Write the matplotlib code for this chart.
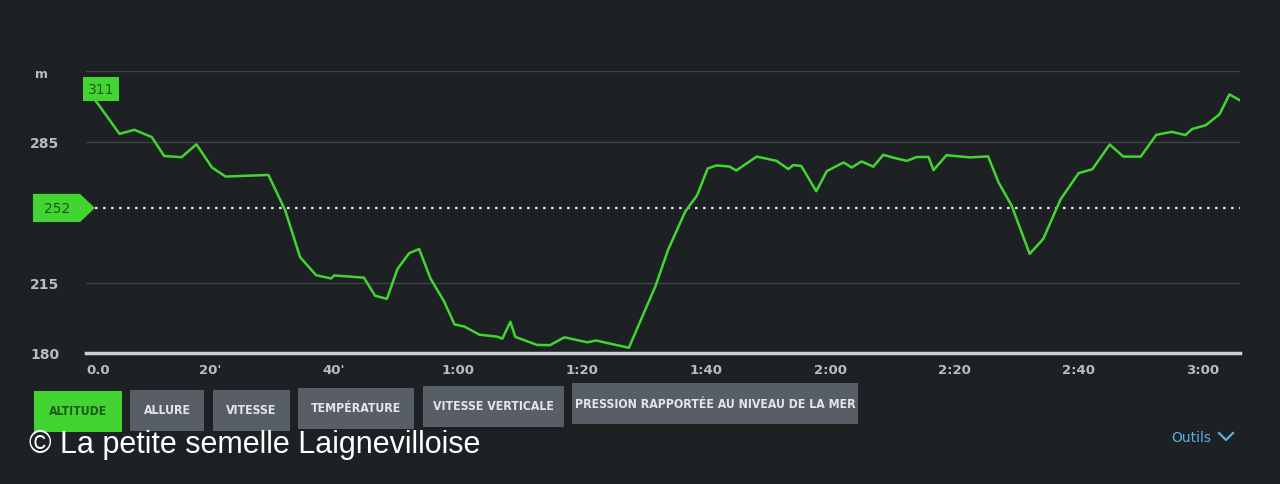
import matplotlib
matplotlib.use('Agg')
import matplotlib.pyplot as plt
from matplotlib.patches import Rectangle, Polygon
from matplotlib.lines import Line2D
from matplotlib.transforms import blended_transform_factory

# profil d'altitude (temps en minutes, altitude en m)
temps_min = [0.0, 1.9, 5.4, 7.8, 10.6, 12.6, 15.4, 17.8, 20.3, 22.5, 29.4, 32.1, 34.5,
             37.1, 39.5, 40.0, 44.8, 46.6, 48.5, 50.2, 52.1, 53.7, 55.5, 57.7, 59.4,
             61.0, 63.4, 66.3, 67.1, 68.4, 69.2, 72.7, 74.8, 77.1, 80.8, 82.2, 87.5,
             91.8, 93.8, 96.6, 98.5, 100.2, 101.6, 103.7, 104.8, 108.1, 111.3, 113.2,
             114.0, 115.3, 117.7, 119.4, 122.1, 123.4, 125.0, 126.9, 128.5, 130.2,
             132.3, 133.9, 135.8, 136.6, 138.7, 142.5, 145.4, 147.1, 149.2, 152.1,
             154.3, 157.1, 160.0, 162.2, 165.0, 167.2, 170.0, 172.5, 175.0, 177.2,
             178.3, 180.5, 182.7, 184.3, 186.0]
altitude = [311, 303.8, 288.8, 290.8, 287.2, 277.8, 277.2, 283.6, 272.1, 267.6, 268.4,
            250.9, 227.6, 218.6, 217.0, 218.5, 217.4, 208.4, 206.9, 221.7, 229.6, 231.6,
            217.1, 205.7, 194.2, 193.1, 189.1, 188.1, 187.1, 195.5, 188.0, 184.0, 183.9,
            187.8, 185.3, 186.2, 182.6, 213.3, 231.1, 250.3, 258.3, 271.6, 273.1, 272.6,
            270.6, 277.5, 275.4, 271.3, 273.3, 272.8, 260.3, 270.3, 274.6, 272.1, 275.1,
            272.5, 278.4, 276.9, 275.4, 277.3, 277.3, 270.8, 278.2, 277.1, 277.6, 264.6,
            253.1, 229.2, 236.7, 256.4, 269.3, 271.2, 283.5, 277.5, 277.5, 288.3, 289.8,
            288.2, 291.2, 293.1, 298.5, 308.4, 305.4]
alt_moyenne = 252
alt_depart = 311

graduations_y = [180, 215, 285]
lignes_grille = [215, 285, 320]
positions_x = [0, 20, 40, 60, 80, 100, 120, 140, 160, 180]
etiquettes_x = ['0.0', "20'", "40'", '1:00', '1:20', '1:40', '2:00', '2:20', '2:40', '3:00']
onglets = ['ALTITUDE', 'ALLURE', 'VITESSE', 'TEMPÉRATURE', 'VITESSE VERTICALE',
           'PRESSION RAPPORTÉE AU NIVEAU DE LA MER']

W, H = 1280, 485
fond = '#1d2123'
vert = '#42d532'
gris_txt = '#b8bdc2'

fig = plt.figure(figsize=(12.8, 4.85), dpi=100, facecolor=fond)


def fx(x):
    return x / W


def fy(y):
    return 1 - y / H


ax = fig.add_axes([fx(86), fy(354), (1240 - 86) / W, (354 - 72) / H])
ax.set_facecolor(fond)
ax.set_xlim(0, 186)
ax.set_ylim(180, 320)
for s in ax.spines.values():
    s.set_visible(False)

for g in lignes_grille:
    ax.axhline(g, color='#3f4447', lw=1.0, zorder=1)
ax.axhline(180, color='#c8d0d8', lw=2.5, zorder=3, clip_on=False)

ax.set_yticks(graduations_y)
ax.set_yticklabels([str(v) for v in graduations_y])
ax.set_xticks(positions_x)
ax.set_xticklabels(etiquettes_x)
ax.tick_params(axis='y', length=0, pad=19, labelsize=10, labelcolor=gris_txt)
ax.tick_params(axis='x', length=0, pad=7, labelsize=9.5, labelcolor=gris_txt)
for t in ax.get_yticklabels() + ax.get_xticklabels():
    t.set_fontweight('bold')
ax.get_xticklabels()[0].set_ha('left')
fig.text(fx(35), fy(75), 'm', color=gris_txt, fontsize=9, fontweight='bold', va='center')

# ligne moyenne
ax.plot([1.5, 186], [alt_moyenne, alt_moyenne], color='#e2e4e6', lw=1.6,
        ls=(0, (1.2, 2.4)), zorder=2)
# profil
ax.plot(temps_min, altitude, color=vert, lw=1.8, zorder=4, solid_joinstyle='round')

# étiquette 252
tr = blended_transform_factory(fig.transFigure, ax.transData)
h = 7.0
tag = Polygon([(fx(33), alt_moyenne - h), (fx(80), alt_moyenne - h), (fx(95), alt_moyenne),
               (fx(80), alt_moyenne + h), (fx(33), alt_moyenne + h)],
              closed=True, transform=tr, fc=vert, ec='none', clip_on=False, zorder=5)
fig.add_artist(tag)
fig.text(fx(57), alt_moyenne, str(alt_moyenne), transform=tr, ha='center', va='center',
         color='#1c5a14', fontsize=10, zorder=6)

# étiquette 311
ax.text(2.4, alt_depart, str(alt_depart), ha='center', va='center', color='#1c5a14',
        fontsize=10, zorder=6, clip_on=False,
        bbox=dict(boxstyle='square,pad=0.35', fc=vert, ec='none'))

# onglets
bornes = [(34, 122, 392), (130, 204, 391), (213, 290, 391), (298, 414, 389),
          (423, 564, 387), (572, 858, 384)]
for i, (nom, (x0, x1, y0)) in enumerate(zip(onglets, bornes)):
    actif = i == 0
    fig.add_artist(Rectangle((fx(x0), fy(y0 + 41)), (x1 - x0) / W, 41 / H,
                             transform=fig.transFigure,
                             fc=vert if actif else '#585e66', ec='none'))
    fig.text(fx((x0 + x1) / 2), fy(y0 + 20), nom, ha='center', va='center',
             fontsize=8.8, fontweight='bold', fontstretch='condensed',
             color='#1c5a14' if actif else '#e2e6ea')

fig.text(fx(29), fy(445), '© La petite semelle Laignevilloise', color='white',
         fontsize=22, family=['Liberation Sans', 'DejaVu Sans'], va='center')

fig.text(fx(1171), fy(438), 'Outils', color='#5aaee4', fontsize=10, va='center')
fig.add_artist(Line2D([fx(1219), fx(1226), fx(1233)], [fy(434), fy(441), fy(434)],
                      transform=fig.transFigure, color='#5aaee4', lw=1.6))

fig.savefig('out.png', dpi=100, facecolor=fond)
